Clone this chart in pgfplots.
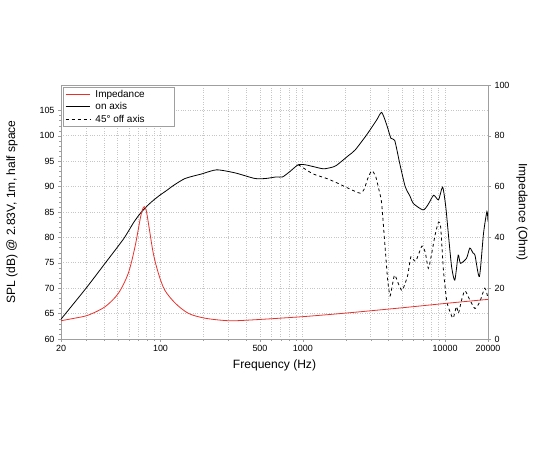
\documentclass[border=0pt]{standalone}
\usepackage{pgfplots}
\pgfplotsset{compat=1.18}
\usepackage{fontspec}
\setmainfont{Liberation Sans}
\definecolor{impred}{HTML}{E8302A}
\newcommand{\labfont}{\fontsize{12.1}{14}\selectfont}
\newcommand{\tickfont}{\fontsize{9}{10}\selectfont}
\begin{document}
\begin{tikzpicture}
\useasboundingbox (0,0) rectangle (550bp,450bp);
\pgfplotsset{
  every axis/.append style={
    /pgf/number format/assume math mode=true,
    scale only axis, width=427bp, height=254bp,
    at={(61bp,111bp)}, anchor=south west,
    xmode=log, xmin=20, xmax=20000,
    axis line style={gray!75},
    tick style={gray!75},
    tick align=outside,
    major tick length=3bp, minor tick length=2bp,
  }
}
\begin{axis}[
  ymin=60, ymax=110,
  xtick={20,100,500,1000,10000,20000},
  xticklabels={20,100,500,1000,10000,20000},
  minor xtick={30,40,50,60,70,80,90,200,300,400,600,700,800,900,2000,3000,4000,5000,6000,7000,8000,9000},
  ytick={60,65,70,75,80,85,90,95,100,105},
  minor y tick num=4,
  xtick pos=bottom, ytick pos=left,
  xmajorgrids, xminorgrids, ymajorgrids,
  major grid style={gray!45, dotted, line width=0.7pt},
  minor grid style={gray!45, dotted, line width=0.7pt},
  xticklabel style={font=\tickfont, text=black},
  yticklabel style={font=\tickfont, text=black},
  xlabel={Frequency (Hz)},
  ylabel={SPL (dB) @ 2.83V, 1m, half space},
  every axis x label/.style={at={(axis description cs:0.5,-0.104)}, anchor=center, font=\labfont},
  every axis y label/.style={at={(axis description cs:-0.1148,0.5)}, anchor=center, rotate=90, font=\labfont},
  legend style={at={(0.0047,0.992)}, anchor=north west, draw=gray!75, fill=white,
    font=\fontsize{10}{12}\selectfont, row sep=1.5pt, inner xsep=2pt, inner ysep=1.5pt,
    nodes={inner xsep=5.5bp, inner ysep=1.2bp}},
  legend cell align=left,
  legend image code/.code={\draw[#1] (0bp,0bp) -- (24bp,0bp);},
]
\addlegendimage{impred, line width=0.8pt}
\addlegendentry{Impedance\hspace*{22bp}}
\addplot[black, line width=0.8pt, smooth, tension=0.4] coordinates {
(20,63.9) (30,70.0) (40.8,74.9) (55,79.7) (65,83.0) (73,84.9) (82,86.4) (90,87.4)
(100,88.4) (110,89.2) (123,90.2) (149,91.6) (195,92.5) (248,93.3) (334,92.7) (460,91.6)
(550,91.6) (650,91.9) (720,91.9) (814,93.0) (928,94.3) (1038,94.3) (1200,93.9)
(1397,93.5) (1600,93.8) (1728,94.2) (2090,96.1) (2330,97.2) (2810,100.2)
(3300,103.1) (3580,104.6) (3880,102.2) (4160,99.5) (4420,99.1) (4800,94.5)
(5240,90.0) (5690,88.0) (5960,86.7) (7000,85.4) (7600,86.5) (8300,88.3)
(8980,87.4) (9600,89.9) (10100,86.0) (10520,80.8) (11100,74.2) (11690,71.6)
(12350,76.5) (12800,74.9) (14130,75.9) (14900,77.9) (15700,76.9) (16200,76.5)
(17400,72.3) (18600,80.8) (19660,85.1) (20000,83.1)
};
\addlegendentry{on axis}
\addplot[black, line width=0.8pt, dashed, smooth, tension=0.4] coordinates {
(928,94.3) (980,93.9) (1180,92.5) (1470,91.6) (1780,90.6) (2150,89.5) (2530,88.7)
(2700,89.5) (2850,91.5) (3050,93.1) (3250,92.0) (3450,89.0) (3580,86.7)
(3780,78.2) (3950,71.5) (4100,68.5) (4250,70.5) (4420,72.6) (4750,70.5)
(5000,69.6) (5450,72.5) (5750,76.2) (6200,75.3) (6870,78.3) (7250,77.0)
(7620,73.9) (8000,76.5) (8500,80.5) (8980,83.0) (9300,82.0) (9720,73.6)
(10260,67.5) (10800,65.4) (11380,64.1) (12000,66.4) (12400,65.1) (13000,67.5)
(13760,69.5) (14900,67.7) (16200,66.0) (17500,67.3) (19000,70.0) (20000,68.0)
};
\addlegendentry{45\textdegree{} off axis}
\end{axis}
\begin{axis}[
  ymin=0, ymax=100,
  axis x line=none, axis y line*=right,
  ytick={0,20,40,60,80,100},
  yticklabel style={font=\tickfont, text=black},
  ylabel={Impedance (Ohm)},
  every axis y label/.style={at={(axis description cs:1.0796,0.5)}, anchor=center, rotate=-90, font=\labfont},
]
\addplot[impred, line width=0.8pt, smooth, tension=0.5] coordinates {
(20,7.2) (25,8.2) (31.1,9.4) (40.8,12.7) (50.6,18.0) (59.4,25.9) (66.2,36.3)
(71.8,46.9) (74.5,50.8) (77,52.1) (79.5,50.5) (83,44.2) (89,33.7) (96.6,25.9)
(107,19.3) (127,14.1) (157,10.1) (205,8.2) (300,7.2) (436,7.5) (1000,8.8)
(2000,10.2) (5000,12.3) (10000,14.0) (20000,15.6)
};
\end{axis}
\end{tikzpicture}
\end{document}
